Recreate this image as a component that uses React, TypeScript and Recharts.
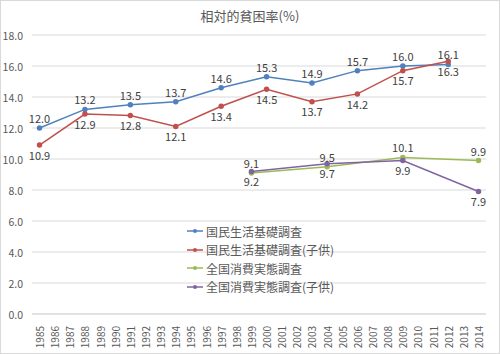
import { LineChart, Line, CartesianGrid, XAxis, YAxis, LabelList } from "recharts";

const years = [
    "1985", "1986", "1987", "1988", "1989", "1990", "1991", "1992", "1993", "1994",
    "1995", "1996", "1997", "1998", "1999", "2000", "2001", "2002", "2003", "2004",
    "2005", "2006", "2007", "2008", "2009", "2010", "2011", "2012", "2013", "2014"
];

// 国民生活基礎調査
const kokuminYears = ["1985", "1988", "1991", "1994", "1997", "2000", "2003", "2006", "2009", "2012"];
const kokuminAll = [12.0, 13.2, 13.5, 13.7, 14.6, 15.3, 14.9, 15.7, 16.0, 16.1];
const kokuminChild = [10.9, 12.9, 12.8, 12.1, 13.4, 14.5, 13.7, 14.2, 15.7, 16.3];

// 全国消費実態調査
const zenkokuYears = ["1999", "2004", "2009", "2014"];
const zenkokuAll = [9.1, 9.5, 10.1, 9.9];
const zenkokuChild = [9.2, 9.7, 9.9, 7.9];

const yTicks = [0, 2, 4, 6, 8, 10, 12, 14, 16, 18];

const seriesInfo = [
    { key: "a", name: "国民生活基礎調査", color: "#4F81BD", pos: "top" },
    { key: "b", name: "国民生活基礎調査(子供)", color: "#C0504D", pos: "bottom" },
    { key: "c", name: "全国消費実態調査", color: "#9BBB59", pos: "top" },
    { key: "d", name: "全国消費実態調査(子供)", color: "#8064A2", pos: "bottom" }
];

const chartData = years.map(y => {
    const i = kokuminYears.indexOf(y);
    const j = zenkokuYears.indexOf(y);
    return {
        year: y,
        a: i >= 0 ? kokuminAll[i] : null,
        b: i >= 0 ? kokuminChild[i] : null,
        c: j >= 0 ? zenkokuAll[j] : null,
        d: j >= 0 ? zenkokuChild[j] : null
    };
});

const font = "'Noto Sans CJK JP', 'Noto Sans', sans-serif";

const YearTick = (props: any) => {
    const { x, y, payload } = props;
    return (
        <text
            x={x}
            y={y + 4}
            transform={`rotate(-90, ${x}, ${y + 4})`}
            textAnchor="end"
            dominantBaseline="central"
            fontSize={10}
            fill="#595959"
            fontFamily={font}
        >
            {payload.value}
        </text>
    );
};

const ValueTick = (props: any) => {
    const { y, payload } = props;
    return (
        <text
            x={23}
            y={y}
            textAnchor="end"
            dominantBaseline="central"
            fontSize={10.5}
            fill="#595959"
            fontFamily={font}
        >
            {Number(payload.value).toFixed(1)}
        </text>
    );
};

export default function App() {
    return (
        <div style={{ position: "absolute", left: 0, top: 0, width: 500, height: 354, background: "#fff" }}>
            <div
                style={{
                    position: "absolute",
                    top: 6,
                    left: 0,
                    width: 500,
                    textAlign: "center",
                    fontFamily: font,
                    fontSize: 13,
                    color: "#595959"
                }}
            >
                相対的貧困率(%)
            </div>
            <LineChart
                width={500}
                height={354}
                data={chartData}
                margin={{ top: 35, right: 14, left: 0, bottom: 4 }}
            >
                <CartesianGrid vertical={false} stroke="#D9D9D9" />
                <XAxis
                    dataKey="year"
                    interval={0}
                    height={36}
                    padding={{ left: 7.5, right: 7.5 }}
                    tick={<YearTick />}
                    tickLine={false}
                    axisLine={{ stroke: "#D9D9D9" }}
                />
                <YAxis
                    width={32}
                    domain={[0, 18]}
                    ticks={yTicks}
                    tickLine={false}
                    axisLine={false}
                    tick={<ValueTick />}
                />
                {seriesInfo.map(s => (
                    <Line
                        key={s.key}
                        dataKey={s.key}
                        name={s.name}
                        stroke={s.color}
                        strokeWidth={1.5}
                        dot={{ r: 2, fill: s.color, stroke: s.color }}
                        connectNulls
                        isAnimationActive={false}
                    >
                        <LabelList
                            dataKey={s.key}
                            position={s.pos as any}
                            offset={s.pos === "top" ? 5 : 7}
                            formatter={(v: any) => (v == null ? "" : Number(v).toFixed(1))}
                            style={{ fontSize: 11, fill: "#404040", fontFamily: font }}
                        />
                    </Line>
                ))}
            </LineChart>
            <div
                style={{
                    position: "absolute",
                    left: 187,
                    top: 222,
                    fontFamily: font,
                    fontSize: 12,
                    color: "#595959"
                }}
            >
                {seriesInfo.map(s => (
                    <div key={s.key} style={{ display: "flex", alignItems: "center", height: 18.5 }}>
                        <svg width={16} height={8} style={{ marginRight: 3 }}>
                            <line x1={0} y1={4} x2={16} y2={4} stroke={s.color} strokeWidth={1.5} />
                            <circle cx={8} cy={4} r={2} fill={s.color} />
                        </svg>
                        <span>{s.name}</span>
                    </div>
                ))}
            </div>
            <div
                style={{
                    position: "absolute",
                    left: 0,
                    top: 0,
                    width: 498,
                    height: 352,
                    border: "1px solid #D9D9D9",
                    pointerEvents: "none"
                }}
            />
        </div>
    );
}
